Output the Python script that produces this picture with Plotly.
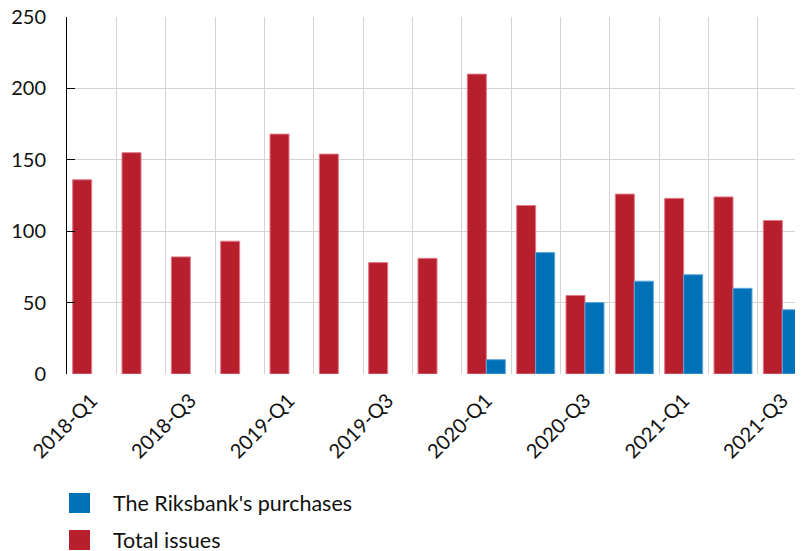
import plotly.graph_objects as go

quarters = ["2018-Q1", "2018-Q2", "2018-Q3", "2018-Q4",
            "2019-Q1", "2019-Q2", "2019-Q3", "2019-Q4",
            "2020-Q1", "2020-Q2", "2020-Q3", "2020-Q4",
            "2021-Q1", "2021-Q2", "2021-Q3"]
total_issues = [136, 155, 82, 93, 168, 154, 78, 81, 210, 118, 55, 126, 123, 124, 107.5]
riksbank_purchases = [None, None, None, None, None, None, None, None,
                      10, 85, 50, 65, 69.5, 60, 45]
y_ticks = [0, 50, 100, 150, 200, 250]

RED = "#B81F2D"
BLUE = "#0070B7"
FONT = "Lato"

xs = list(range(len(quarters)))

fig = go.Figure()
fig.add_trace(go.Bar(x=xs, y=total_issues, name="Total issues",
                     marker=dict(color=RED, line=dict(color="#E07A86", width=1))))
fig.add_trace(go.Bar(x=xs, y=riksbank_purchases, name="The Riksbank's purchases",
                     marker=dict(color=BLUE, line=dict(color="#5AA5DD", width=1))))

PW, PH = 740, 357  # plot area size in px

fig.update_layout(
    width=803, height=551,
    margin=dict(l=59, r=4, t=9, b=185, autoexpand=False),
    plot_bgcolor="white", paper_bgcolor="white",
    barmode="group", bargap=0.23, bargroupgap=0,
    showlegend=False,
    font=dict(family=FONT, size=20, color="#111111"),
    xaxis=dict(
        range=[-0.5, 14.5], automargin=False,
        tickmode="array", tickvals=xs[::2], ticktext=quarters[::2],
        tickangle=-45, showgrid=False, zeroline=False, showline=False, ticks="",
        tickfont=dict(size=20), ticklabeloverflow="allow",
        ticklabelstandoff=10, ticklabelshift=0,
        minor=dict(tickmode="array", tickvals=[i + 0.5 for i in xs[:-1]],
                   showgrid=True, gridcolor="#D3D3D3", gridwidth=1, ticks=""),
    ),
    yaxis=dict(
        range=[0, 250], tickmode="array", tickvals=y_ticks, automargin=False,
        showgrid=True, gridcolor="#D3D3D3", gridwidth=1, zeroline=False,
        showline=True, linecolor="#000000", linewidth=1,
        ticks="inside", ticklen=8, tickcolor="#000000",
        ticklabelstandoff=16, tickfont=dict(size=20), ticklabeloverflow="allow",
    ),
    yaxis2=dict(
        range=[0, 250], tickmode="array", tickvals=y_ticks, overlaying="y", side="right",
        automargin=False,
        showgrid=False, zeroline=False, showline=False, showticklabels=False,
        ticks="inside", ticklen=8, tickcolor="#000000",
    ),
)

# invisible trace to realize right axis
fig.add_trace(go.Scatter(x=[xs[0]], y=[0], yaxis="y2", mode="markers",
                         marker=dict(opacity=0), hoverinfo="skip", showlegend=False))

# legend drawn manually (positions relative to plot area, in px)
legend_items = [("The Riksbank's purchases", BLUE), ("Total issues", RED)]
for i, (label, col) in enumerate(legend_items):
    top_px = 119 + i * 37          # px below plot bottom
    y0 = -top_px / PH
    y1 = -(top_px + 20) / PH
    fig.add_shape(type="rect", xref="paper", yref="paper",
                  x0=2 / PW, x1=23 / PW, y0=y1, y1=y0,
                  fillcolor=col, line=dict(width=0))
    fig.add_annotation(xref="paper", yref="paper", x=44 / PW, y=(y0 + y1) / 2,
                       text=label, showarrow=False, xanchor="left", yanchor="middle",
                       font=dict(family=FONT, size=21.5, color="#111111"))

fig.write_html("out.html")
